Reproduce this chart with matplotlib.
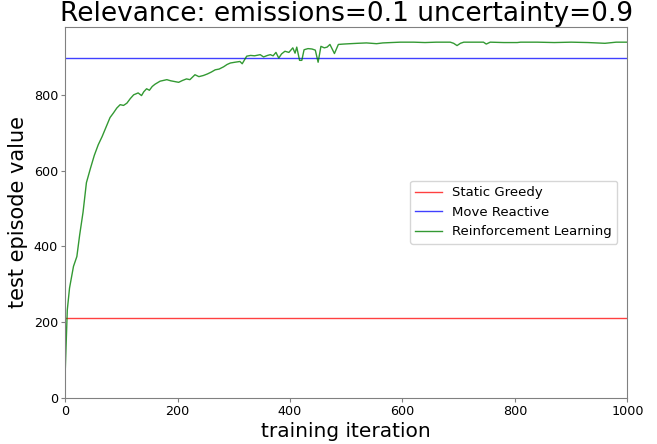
import matplotlib
matplotlib.use("Agg")
import matplotlib.pyplot as plt

# baseline values
static_greedy = 211
move_reactive = 898

# reinforcement learning curve
rl_iter = [0, 4, 8, 15, 21, 26, 32, 38, 45, 52, 59, 66, 73, 80, 86, 92, 98, 104,
           110, 116, 122, 130, 136, 140, 145, 150, 155, 160, 169, 175, 181, 188,
           195, 202, 209, 216, 222, 231, 238, 246, 253, 260, 267, 274, 282, 288,
           294, 302, 311, 315, 323, 330, 337, 347, 353, 360, 365, 370, 375, 380,
           385, 391, 398, 405, 409, 412, 417, 421, 425, 432, 439, 445, 450, 455,
           461, 466, 471, 479, 486, 495, 507, 520, 536, 545, 554, 565, 580, 596,
           620, 640, 660, 685, 691, 697, 703, 709, 725, 744, 749, 756, 780, 804,
           810, 840, 870, 900, 930, 960, 980, 1000]
rl_value = [56, 232, 290, 347, 373, 430, 490, 568, 605, 640, 668, 690, 715, 740,
            752, 765, 774, 772, 778, 790, 800, 805, 798, 808, 816, 812, 822, 828,
            836, 838, 840, 837, 835, 833, 838, 842, 840, 853, 848, 851, 855, 860,
            866, 868, 874, 880, 884, 886, 888, 882, 902, 904, 903, 906, 900, 904,
            906, 903, 912, 897, 908, 915, 912, 924, 910, 926, 891, 891, 919, 922,
            921, 918, 886, 928, 924, 926, 933, 909, 933, 934, 935, 936, 937, 936,
            935, 937, 938, 939, 939, 938, 939, 939, 936, 930, 936, 939, 939, 939,
            934, 939, 938, 938, 939, 939, 938, 939, 938, 936, 939, 939]

fig, ax = plt.subplots(figsize=(6.57, 4.44), dpi=100)

ax.axhline(static_greedy, color="red", alpha=0.75, lw=1.0, label="Static Greedy")
ax.axhline(move_reactive, color="blue", alpha=0.75, lw=1.0, label="Move Reactive")
ax.plot(rl_iter, rl_value, color="green", alpha=0.8, lw=1.0, label="Reinforcement Learning")

ax.set_xlim(0, 1000)
ax.set_ylim(0, 980)
ax.set_xticks([0, 200, 400, 600, 800, 1000])
ax.set_yticks([0, 200, 400, 600, 800])
ax.tick_params(labelsize=9.2, length=3, color="gray", pad=2)
for s in ax.spines.values():
    s.set_color("gray")

ax.set_title("Relevance: emissions=0.1 uncertainty=0.9", fontsize=19, pad=4)
ax.set_xlabel("training iteration", fontsize=14.5, labelpad=3)
ax.set_ylabel("test episode value", fontsize=15, labelpad=4)
ax.legend(loc="center right", fontsize=9.5, bbox_to_anchor=(0.994, 0.50))

fig.subplots_adjust(left=0.099, right=0.955, top=0.94, bottom=0.104)
fig.savefig("out.png", dpi=100)
